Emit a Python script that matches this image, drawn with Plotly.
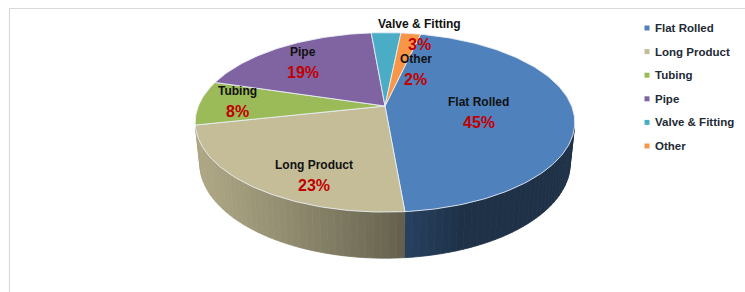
import math
import plotly.graph_objects as go

# ---------------- data ----------------
categories = ["Flat Rolled", "Long Product", "Tubing", "Pipe", "Valve & Fitting", "Other"]
values = [45, 23, 8, 19, 3, 2]
pct_labels = ["45%", "23%", "8%", "19%", "3%", "2%"]

# ---------------- styling / layout ----------------
colors = ["#4F81BD", "#C4BD97", "#9BBB59", "#8064A2", "#4BACC6", "#F79646"]
W, H = 745, 292
CX, CY = 385, 106            # pixel position of the pie apex
F = 905.0                    # focal scale
DIST = 4.85                  # camera distance (radius units)
ELEV = math.radians(27.7)    # camera elevation
DEPTH = 0.25                 # pie thickness (radius units)
ROT = 13.0                   # first slice angle, clockwise from 12 o'clock
FONT = "Liberation Sans, Arial, sans-serif"
RED = "#C00000"

# label placement (angle clockwise from 12 o'clock, radius fraction)
label_angle = [98, 205.6, 274.2, 319.4, 12.6, 21]
label_r = [0.5, 0.77, 0.80, 0.742, 1.01, 0.50]

s, c = math.sin(ELEV), math.cos(ELEV)


def proj(X, Y, Z):
    d = DIST + Y * c - Z * s
    return CX + F * X / d, CY - F * (Y * s + Z * c) / d


def rim(a_deg, z=0.0, r=1.0):
    a = math.radians(a_deg)
    return proj(r * math.sin(a), r * math.cos(a), z)


def shade(hexcol, a_deg):
    f = 0.38 + 0.5 * max(0.0, math.cos(math.radians(a_deg - 250)))
    r, g, b = (int(hexcol[i:i + 2], 16) for i in (1, 3, 5))
    return "rgb(%d,%d,%d)" % (min(255, r * f), min(255, g * f), min(255, b * f))


total = float(sum(values))
starts, ends = [], []
acc = ROT
for v in values:
    starts.append(acc)
    acc += 360.0 * v / total
    ends.append(acc)

fig = go.Figure()

# visible side range (faces toward camera)
vis = math.degrees(math.acos(-1.0 / (DIST * c)))
vis_lo, vis_hi = vis, 360 - vis

# ---- side walls ----
for cat, col, a0, a1 in zip(categories, colors, starts, ends):
    for shift in (0, 360, -360):
        lo = max(a0 + shift, vis_lo)
        hi = min(a1 + shift, vis_hi)
        if hi <= lo:
            continue
        n = max(1, int(math.ceil((hi - lo) / 2.0)))
        for i in range(n):
            t0 = lo + (hi - lo) * i / n
            t1 = lo + (hi - lo) * (i + 1) / n
            p = [rim(t0), rim(t1), rim(t1, -DEPTH), rim(t0, -DEPTH), rim(t0)]
            clr = shade(col, (t0 + t1) / 2)
            fig.add_trace(go.Scatter(
                x=[q[0] for q in p], y=[q[1] for q in p], mode="lines",
                fill="toself", fillcolor=clr, line=dict(color=clr, width=0.8),
                hoverinfo="skip", showlegend=False))

# ---- top faces ----
for cat, col, v, a0, a1 in zip(categories, colors, values, starts, ends):
    n = max(2, int(math.ceil((a1 - a0) / 1.0)))
    pts = [proj(0, 0, 0)] + [rim(a0 + (a1 - a0) * i / n) for i in range(n + 1)] + [proj(0, 0, 0)]
    fig.add_trace(go.Scatter(
        x=[q[0] for q in pts], y=[q[1] for q in pts], mode="lines",
        fill="toself", fillcolor=col, line=dict(color="rgba(235,240,248,0.85)", width=1),
        name=cat, text=["%s: %d%%" % (cat, v)] * len(pts), hoverinfo="text",
        showlegend=False))

# ---- data labels ----
for cat, pl, ang, rr in zip(categories, pct_labels, label_angle, label_r):
    lx, ly = rim(ang, 0.0, rr)
    fig.add_annotation(x=lx, y=ly - 10, text="<b>%s</b>" % cat, showarrow=False,
                       font=dict(family=FONT, size=12, color="#111111"),
                       xanchor="center", yanchor="middle")
    fig.add_annotation(x=lx, y=ly + 10.5, text="<b>%s</b>" % pl, showarrow=False,
                       font=dict(family=FONT, size=16, color=RED),
                       xanchor="center", yanchor="middle")

# ---- legend (swatches + text) ----
LEG_X, LEG_Y0, LEG_DY = 647, 28, 23.6
for i, (cat, col) in enumerate(zip(categories, colors)):
    y = LEG_Y0 + i * LEG_DY
    fig.add_trace(go.Scatter(x=[LEG_X], y=[y], mode="markers",
                             marker=dict(symbol="square", size=5, color=col),
                             hoverinfo="skip", showlegend=False))
    fig.add_annotation(x=LEG_X + 6, y=y, text="<b>%s</b>" % cat, showarrow=False,
                       font=dict(family=FONT, size=11.5, color="#232a36"),
                       xanchor="left", yanchor="middle")

# ---- chart frame ----
fig.add_shape(type="rect", x0=9.5, y0=8.5, x1=W + 20, y1=H + 20,
              line=dict(color="#d9d9d9", width=1.2), layer="below")

fig.update_layout(
    width=W, height=H, margin=dict(l=0, r=0, t=0, b=0),
    paper_bgcolor="white", plot_bgcolor="white",
    xaxis=dict(range=[0, W], visible=False, fixedrange=True),
    yaxis=dict(range=[H, 0], visible=False, fixedrange=True),
    showlegend=False,
)

fig.write_html(
    "out.html",
    config={"displayModeBar": False},
    post_script="document.body.style.margin='0px';document.body.style.overflow='hidden';",
)
